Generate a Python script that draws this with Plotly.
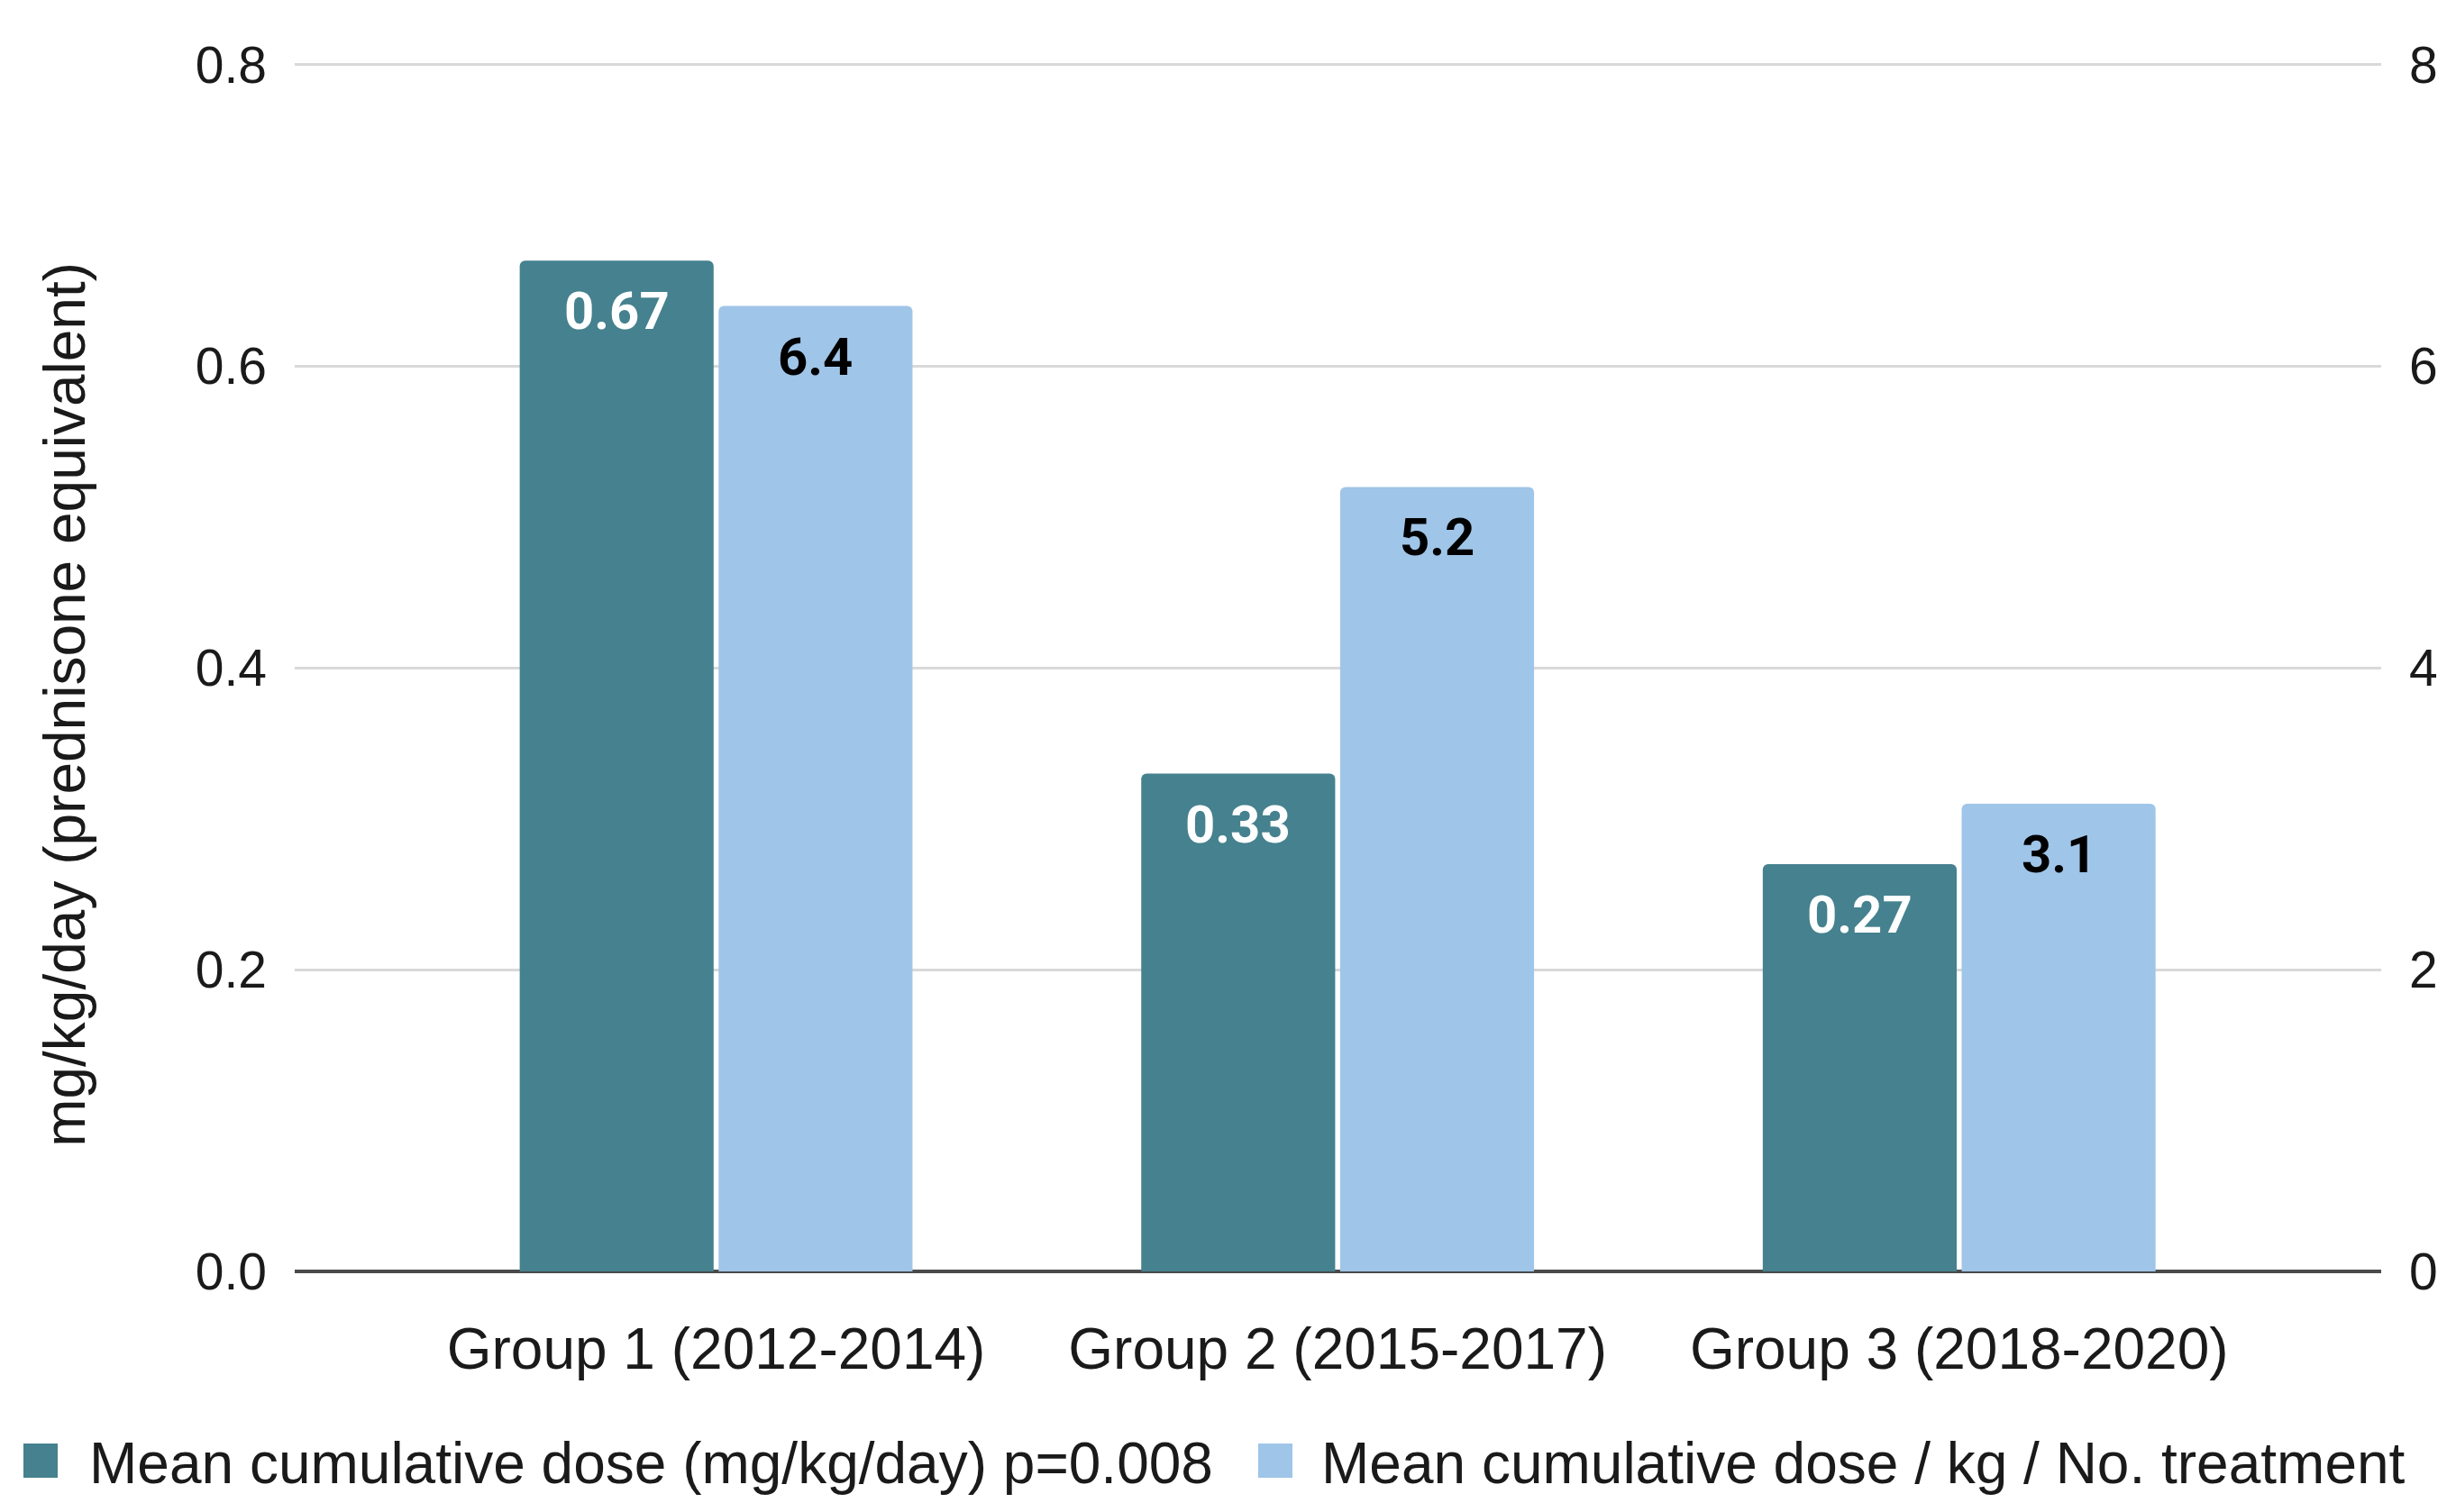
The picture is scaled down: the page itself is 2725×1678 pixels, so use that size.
import plotly.graph_objects as go

categories = ["Group 1 (2012-2014)", "Group 2 (2015-2017)", "Group 3 (2018-2020)"]
dose_mgkgday = [0.67, 0.33, 0.27]
dose_per_treatment = [6.4, 5.2, 3.1]
series_names = ["Mean cumulative dose (mg/kg/day) p=0.008",
                "Mean cumulative dose / kg / No. treatment"]
left_ticks = [0.0, 0.2, 0.4, 0.6, 0.8]
right_ticks = [0, 2, 4, 6, 8]
y_title = "mg/kg/day (prednisone equivalent)"

DARK = "#45818e"
LIGHT = "#9fc5e8"
AX_FONT = "Liberation Sans, Arial, sans-serif"
LBL_FONT = "Roboto, Arial, sans-serif"

W, H = 2725, 1678
OFF = 8  # default body margin of the html page
# plot area in screen px (target), converted to figure px
PL, PR, PT, PB = 327 - OFF, 2642 - OFF, 72 - OFF, 1411 - OFF
XR = [-0.678, 2.679]
BARGAP = 0.36
LMAX, RMAX = 0.8, 8.0
EXT = 1.002  # tiny headroom so the top gridline is drawn
PT_FIG = PB - (PB - PT) * EXT


def px_x(px):
    return (px - OFF - PL) / (PR - PL)


def px_y(py):
    return (PB - (py - OFF)) / (PB - PT_FIG)


fig = go.Figure()
fig.add_trace(go.Bar(
    x=categories, y=dose_mgkgday, name=series_names[0], offsetgroup="a",
    marker=dict(color=DARK, cornerradius=6, line=dict(width=0)),
    yaxis="y", showlegend=False,
))
fig.add_trace(go.Bar(
    x=categories, y=dose_per_treatment, name=series_names[1], offsetgroup="b",
    marker=dict(color=LIGHT, cornerradius=6, line=dict(width=0)),
    yaxis="y2", showlegend=False,
))

annotations = []
shapes = []

# data labels inside the bar tops
px_per_cat = (PR - PL) / (XR[1] - XR[0])
half_slot = (1 - BARGAP) / 4 * px_per_cat
for vals, yref, sign, col, fmt in [(dose_mgkgday, "y", -1, "white", "{:.2f}"),
                                   (dose_per_treatment, "y2", 1, "black", "{:.1f}")]:
    for c, v in zip(categories, vals):
        annotations.append(dict(text=fmt.format(v), x=c, y=v, xref="x", yref=yref,
                                xshift=sign * half_slot, yshift=-56,
                                xanchor="center", yanchor="middle", showarrow=False,
                                font=dict(family=LBL_FONT, size=58, color=col, weight="bold")))

# manual legend (large square swatches like the reference)
legend_items = [(series_names[0], DARK, 26, 64, 97), (series_names[1], LIGHT, 1396, 1434, 1464)]
for name, col, sx0, sx1, tx in legend_items:
    shapes.append(dict(type="rect", xref="paper", yref="paper",
                       x0=px_x(sx0), x1=px_x(sx1), y0=px_y(1640), y1=px_y(1602),
                       fillcolor=col, line=dict(width=0)))
    annotations.append(dict(text=name, xref="paper", yref="paper", x=px_x(tx), y=px_y(1624),
                            xanchor="left", yanchor="middle", showarrow=False,
                            font=dict(family=AX_FONT, size=64, color="#1a1a1a")))

# y-axis title
annotations.append(dict(text=y_title, xref="paper", yref="paper", x=px_x(72), y=px_y(782),
                        xanchor="center", yanchor="middle", textangle=-90, showarrow=False,
                        font=dict(family=AX_FONT, size=64, color="#1a1a1a")))

fig.update_layout(
    width=W, height=H,
    margin=dict(l=PL, r=W - PR, t=PT_FIG, b=H - PB, autoexpand=False),
    paper_bgcolor="white", plot_bgcolor="white",
    barmode="group", bargap=BARGAP, bargroupgap=0.025,
    xaxis=dict(type="category", range=XR, showgrid=False, showline=False,
               ticks="", tickfont=dict(family=AX_FONT, size=64, color="#1a1a1a"),
               ticklabelstandoff=43, zeroline=False),
    yaxis=dict(range=[0, LMAX * EXT], tickvals=left_ticks, tickformat=".1f",
               showgrid=True, gridcolor="#d9d9d9", gridwidth=3,
               zeroline=True, zerolinecolor="#4a4a4a", zerolinewidth=4,
               ticks="", ticklabelstandoff=30, automargin=False,
               tickfont=dict(family=AX_FONT, size=57, color="#1a1a1a")),
    yaxis2=dict(range=[0, RMAX * EXT], tickvals=right_ticks, overlaying="y", side="right",
                showgrid=False, zeroline=False, ticks="", ticklabelstandoff=30,
                automargin=False,
                tickfont=dict(family=AX_FONT, size=57, color="#1a1a1a")),
    shapes=shapes, annotations=annotations,
    showlegend=False,
)

fig.write_html("out.html")
